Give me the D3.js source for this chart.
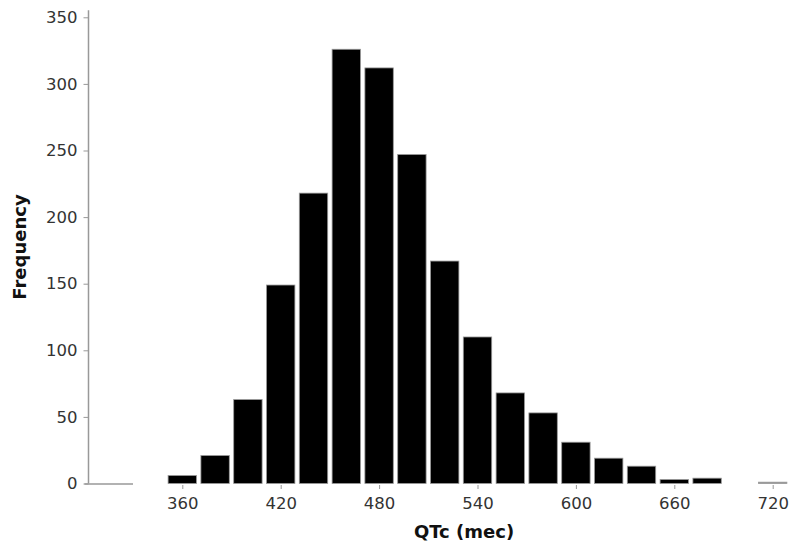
<!DOCTYPE html>
<html>
<head>
<meta charset="utf-8">
<script src="https://cdn.jsdelivr.net/npm/d3@7"></script>
<style>
  html, body { margin: 0; padding: 0; background: #fff; }
  svg { display: block; font-family: "DejaVu Sans", Verdana, sans-serif; }
</style>
</head>
<body>
<svg id="chart" width="794" height="549"></svg>
<script>
// Bin centres (QTc, msec) and frequencies
const binCenters = [360, 380, 400, 420, 440, 460, 480, 500, 520, 540, 560, 580, 600, 620, 640, 660, 680, 700, 720];
const frequencies = [6, 21, 63, 149, 218, 326, 312, 247, 167, 110, 68, 53, 31, 19, 13, 3, 4, 0, 1];
const xTicks = [360, 420, 480, 540, 600, 660, 720];
const yTicks = [0, 50, 100, 150, 200, 250, 300, 350];
const binWidth = 20;
const xLabel = "QTc (mec)";
const yLabel = "Frequency";

const svg = d3.select("#chart");
const x = d3.scaleLinear().domain([360, 720]).range([182.3, 772.7]);
const y = d3.scaleLinear().domain([0, 350]).range([483.5, 17.3]);
const axisX0 = 88.5;
const gap = 2.2;

// bars
svg.append("g").selectAll("rect")
  .data(binCenters.map((c, i) => ({c, v: frequencies[i]})).filter(d => d.v > 0))
  .join("rect")
  .attr("x", d => x(d.c - binWidth / 2) + gap)
  .attr("width", d => x(d.c + binWidth / 2) - x(d.c - binWidth / 2) - 2 * gap)
  .attr("y", d => y(d.v))
  .attr("height", d => y(0) - y(d.v))
  .attr("fill", d => d.v > 1 ? "#000" : "#888")
  .attr("stroke", "#999")
  .attr("stroke-width", 0.8);

// y axis
const yAxis = svg.append("g")
  .attr("transform", `translate(${axisX0},0)`)
  .call(d3.axisLeft(y).tickValues(yTicks).tickSize(5).tickPadding(6).tickSizeOuter(0));
yAxis.select(".domain").attr("stroke", "#999").attr("stroke-width", 1.5)
  .attr("d", `M0,${y(350) - 7}V${y(0)}`);
yAxis.selectAll(".tick line").attr("stroke", "#999");
yAxis.selectAll(".tick text").attr("fill", "#333").style("font-size", "16.5px")
  .style("font-family", "'DejaVu Sans', Verdana, sans-serif");

// x axis stub line at zero (left of the bars)
svg.append("line")
  .attr("x1", axisX0 - 4).attr("x2", 133)
  .attr("y1", y(0) + 0.5).attr("y2", y(0) + 0.5)
  .attr("stroke", "#999").attr("stroke-width", 1.5);

// x axis ticks
const xAxis = svg.append("g")
  .attr("transform", `translate(0,${y(0) + 1.5})`)
  .call(d3.axisBottom(x).tickValues(xTicks).tickSize(4).tickPadding(8).tickFormat(d3.format("d")));
xAxis.select(".domain").remove();
xAxis.selectAll(".tick line").attr("stroke", "#999");
xAxis.selectAll(".tick text").attr("fill", "#333").style("font-size", "16.5px")
  .style("font-family", "'DejaVu Sans', Verdana, sans-serif");

// axis titles
svg.append("text")
  .attr("x", 464).attr("y", 537.5)
  .attr("text-anchor", "middle")
  .style("font-size", "18px").style("font-weight", "bold")
  .attr("fill", "#111")
  .text(xLabel);

svg.append("text")
  .attr("transform", `translate(26,247) rotate(-90)`)
  .attr("text-anchor", "middle")
  .style("font-size", "18px").style("font-weight", "bold")
  .attr("fill", "#111")
  .text(yLabel);
</script>
</body>
</html>
